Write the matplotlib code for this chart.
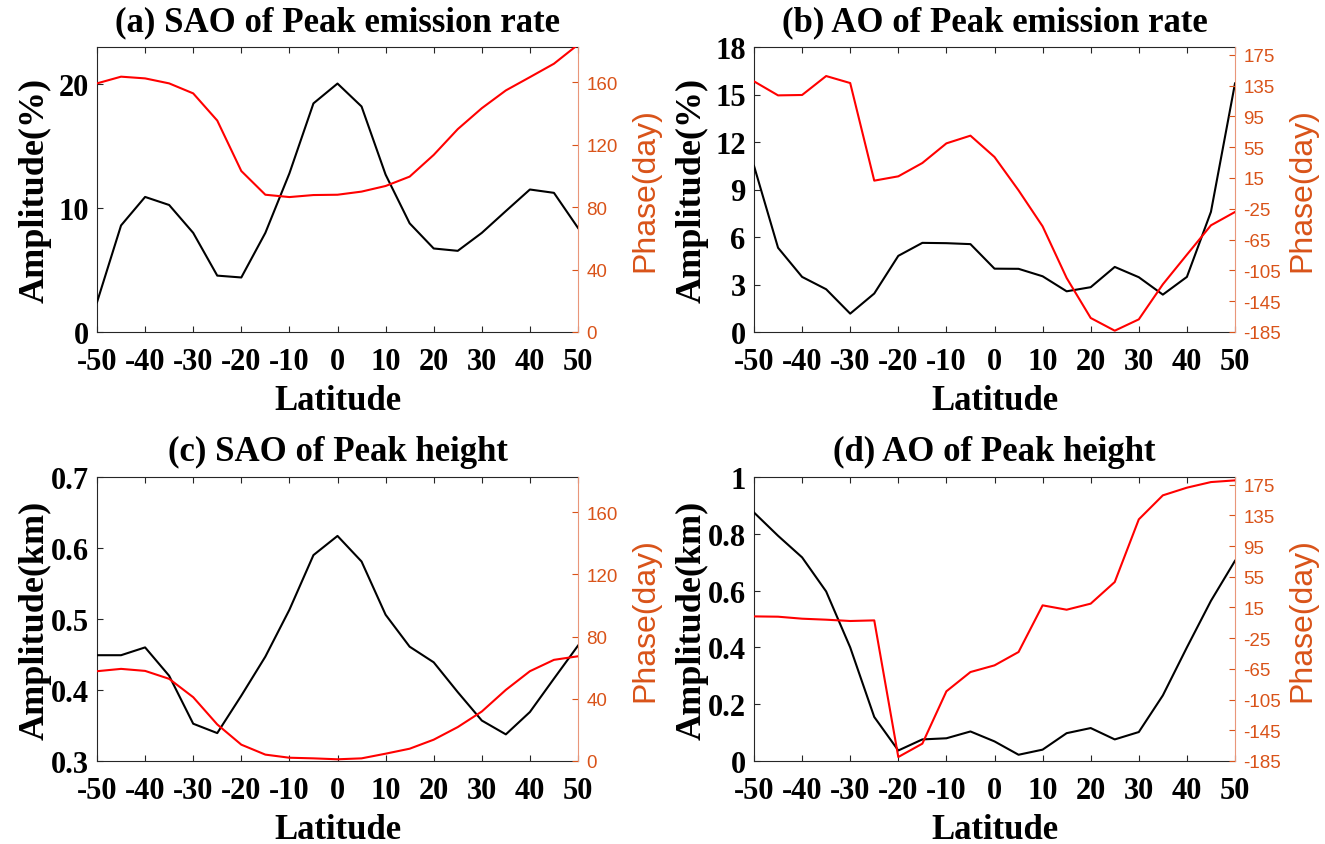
import matplotlib
matplotlib.use("Agg")
import matplotlib.pyplot as plt

# Latitude grid (degrees)
latitude = list(range(-50, 55, 5))

# (a) SAO of peak emission rate
sao_rate_amp = [2.4, 8.6, 10.9, 10.25, 8.0, 4.55, 4.4, 8.0, 12.8, 18.45, 20.05,
                18.2, 12.7, 8.77, 6.74, 6.55, 8.0, 9.76, 11.5, 11.23, 8.4]
sao_rate_phase = [159.2, 163.5, 162.4, 159.2, 152.8, 135.4, 103.1, 87.9, 86.4, 87.7,
                  87.9, 89.9, 93.5, 99.5, 113.4, 129.9, 143.3, 154.7, 163.2, 171.8, 184.0]

# (b) AO of peak emission rate
ao_rate_amp = [10.49, 5.32, 3.48, 2.7, 1.16, 2.43, 4.81, 5.63, 5.61, 5.55, 4.0,
               3.99, 3.52, 2.57, 2.83, 4.11, 3.46, 2.36, 3.48, 7.59, 15.7]
ao_rate_phase = [140.4, 122.2, 122.7, 147.3, 138.2, 11.5, 17.1, 34.4, 59.9, 69.9, 42.2,
                 -1.1, -47.8, -114.9, -166.8, -183.3, -168.6, -123.1, -84.6, -46.5, -29.2]

# (c) SAO of peak height
sao_height_amp = [0.449, 0.449, 0.460, 0.420, 0.3525, 0.3393, 0.392, 0.447, 0.513, 0.590,
                  0.617, 0.581, 0.506, 0.461, 0.439, 0.397, 0.357, 0.3375, 0.369, 0.416, 0.4625]
sao_height_phase = [57.7, 59.2, 57.9, 52.8, 41.0, 23.5, 10.5, 4.1, 2.1, 1.7, 1.1,
                    1.7, 4.7, 7.9, 13.7, 21.8, 31.8, 45.7, 57.7, 65.0, 67.3]

# (d) AO of peak height
ao_height_amp = [0.875, 0.793, 0.717, 0.597, 0.40, 0.155, 0.037, 0.076, 0.080, 0.104, 0.069,
                 0.022, 0.040, 0.098, 0.116, 0.076, 0.102, 0.231, 0.40, 0.564, 0.705]
ao_height_phase = [3.4, 3.0, 0.4, -0.9, -2.6, -1.8, -179.8, -162.4, -94.2, -69.1, -60.4,
                   -43.0, 17.8, 12.1, 20.0, 48.2, 129.8, 161.1, 171.1, 178.4, 180.6]

x_ticks = list(range(-50, 51, 10))
sao_phase_ticks = [0, 40, 80, 120, 160]
ao_phase_ticks = list(range(-185, 176, 40))

SERIF = "Liberation Serif"
SANS = "Liberation Sans"
ORANGE = "#D95319"
AXIS_GREY = "#262626"

plt.rcParams["font.family"] = SERIF
plt.rcParams["font.weight"] = "bold"

fig = plt.figure(figsize=(13.25, 8.45), dpi=100)

W, H = 1325.0, 845.0


def rect(left, right, top, bottom):
    return [left / W, 1 - bottom / H, (right - left) / W, (bottom - top) / H]


def panel(r, title, amp, phase, amp_lim, amp_ticks, amp_tick_labels, amp_label,
          ph_lim, ph_ticks):
    ax = fig.add_axes(r)
    ax.plot(latitude, amp, color="black", lw=1.5, zorder=3)
    ax.set_xlim(-50, 50)
    ax.set_ylim(*amp_lim)
    ax.set_xticks(x_ticks)
    ax.set_xticklabels([str(v) for v in x_ticks], fontsize=22, fontweight="bold",
                       fontfamily=SERIF)
    ax.set_yticks(amp_ticks)
    ax.set_yticklabels(amp_tick_labels, fontsize=22, fontweight="bold",
                       fontfamily=SERIF)
    ax.tick_params(direction="in", length=4, width=0.8, top=True, right=True,
                   color=AXIS_GREY)
    ax.tick_params(axis="x", pad=11)
    ax.tick_params(axis="y", pad=6)
    for s in ("left", "top", "bottom"):
        ax.spines[s].set_color(AXIS_GREY)
        ax.spines[s].set_linewidth(0.8)
    ax.spines["right"].set_visible(False)
    ax.set_title(title, fontsize=25, fontweight="bold", pad=12)
    ax.set_xlabel("Latitude", fontsize=25, fontweight="bold", va="center")
    ax.xaxis.set_label_coords(0.5, -0.24)
    ax.set_ylabel(amp_label, fontsize=26, fontweight="bold", va="center")
    ax.yaxis.set_label_coords(-0.129, 0.5)

    ax2 = ax.twinx()
    ax2.plot(latitude, phase, color="red", lw=1.5, zorder=3)
    ax2.set_ylim(*ph_lim)
    ax2.set_yticks(ph_ticks)
    ax2.set_yticklabels([str(v) for v in ph_ticks], fontsize=13.5, fontweight="normal",
                        fontfamily=SANS, color=ORANGE)
    ax2.tick_params(axis="y", direction="in", length=4, width=0.8, colors=ORANGE, pad=6)
    for s in ("left", "top", "bottom"):
        ax2.spines[s].set_visible(False)
    ax2.spines["right"].set_color("#E9967A")
    ax2.spines["right"].set_linewidth(0.8)
    ax2.set_ylabel("Phase(day)", fontsize=23, fontweight="normal", fontfamily=SANS,
                   color=ORANGE, va="center", rotation=90)
    ax2.yaxis.set_label_coords(1.14, 0.5)
    return ax, ax2


panel(rect(97, 578, 48, 333), "(a) SAO of Peak emission rate",
      sao_rate_amp, sao_rate_phase, (0, 23), [0, 10, 20], ["0", "10", "20"],
      "Amplitude(%)", (0, 182.5), sao_phase_ticks)

panel(rect(754, 1235, 48, 333), "(b) AO of Peak emission rate",
      ao_rate_amp, ao_rate_phase, (0, 18), [0, 3, 6, 9, 12, 15, 18],
      ["0", "3", "6", "9", "12", "15", "18"],
      "Amplitude(%)", (-185, 185), ao_phase_ticks)

panel(rect(97, 578, 478, 762), "(c) SAO of Peak height",
      sao_height_amp, sao_height_phase, (0.3, 0.7), [0.3, 0.4, 0.5, 0.6, 0.7],
      ["0.3", "0.4", "0.5", "0.6", "0.7"],
      "Amplitude(km)", (0, 182.5), sao_phase_ticks)

panel(rect(754, 1235, 478, 762), "(d) AO of Peak height",
      ao_height_amp, ao_height_phase, (0, 1), [0, 0.2, 0.4, 0.6, 0.8, 1.0],
      ["0", "0.2", "0.4", "0.6", "0.8", "1"],
      "Amplitude(km)", (-185, 185), ao_phase_ticks)

fig.savefig("out.png", dpi=100)
